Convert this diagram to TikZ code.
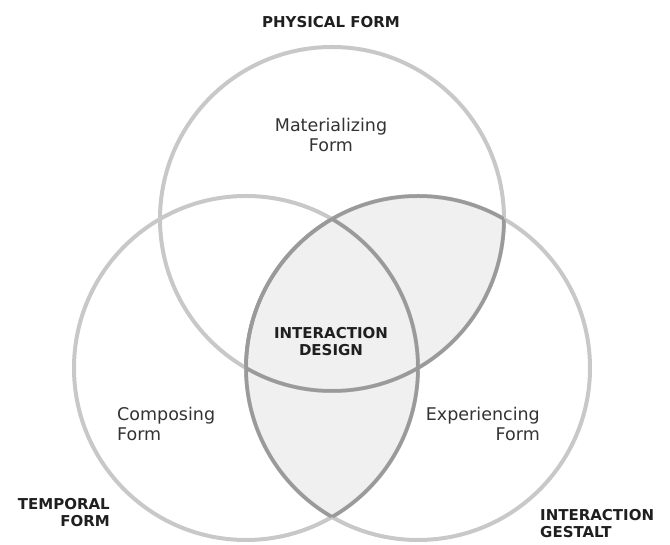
\documentclass[tikz,border=0pt]{standalone}
\usepackage{fontspec}
\setmainfont{DejaVu Sans}
\usepackage{xcolor}
\definecolor{ringgray}{HTML}{C8C8C8}
\definecolor{edgegray}{HTML}{9A9A9A}
\definecolor{lensgray}{HTML}{F0F0F0}
\definecolor{labelgray}{HTML}{333333}
\usetikzlibrary{calc}

\begin{document}
\begin{tikzpicture}[x=1pt,y=1pt,
    ring/.style={draw=ringgray, line width=4pt},
    edge/.style={draw=edgegray, line width=3.5pt},
    area/.style={font=\fontsize{17.5}{20}\selectfont, text=labelgray, inner sep=0pt},
    field/.style={font=\bfseries\fontsize{15}{17}\selectfont, text=black!88, inner sep=0pt}]
    \useasboundingbox (0,0) rectangle (670,545);
    \def\rad{172}

    % Circle centres
    \coordinate (phys) at (332,326);
    \coordinate (temp) at (246,177);
    \coordinate (gest) at (418,177);

    % Shaded overlaps with the gestalt circle
    \begin{scope}
        \clip (gest) circle (\rad);
        \fill[lensgray] (phys) circle (\rad) (temp) circle (\rad);
    \end{scope}

    % The three circles
    \foreach \c in {phys,temp,gest}
        \draw[ring] (\c) circle (\rad);

    % Darker edges round the shaded part
    \begin{scope}
        \clip (gest) circle (\rad);
        \draw[edge] (phys) circle (\rad) (temp) circle (\rad);
    \end{scope}
    \foreach \c in {phys,temp} {
        \begin{scope}
            \clip (\c) circle (\rad);
            \draw[edge] (gest) circle (\rad);
        \end{scope}
    }

    % Labels inside the circles
    \node[area, align=center, anchor=base] (materializing) at (331,393) {Materializing\\Form};
    \node[area, align=left, anchor=base west] (composing) at (117,104) {Composing\\Form};
    \node[area, align=right, anchor=base east] (experiencing) at (540,104) {Experiencing\\Form};
    \node[field, align=center, anchor=base] (design) at (331,189) {INTERACTION\\DESIGN};

    % Labels outside the circles
    \node[field, anchor=base] (physical) at (331,517) {PHYSICAL FORM};
    \node[field, align=right, anchor=base east] (temporal) at (110,18) {TEMPORAL\\FORM};
    \node[field, align=left, anchor=base west] (gestalt) at (540,7) {INTERACTION\\GESTALT};
\end{tikzpicture}
\end{document}
